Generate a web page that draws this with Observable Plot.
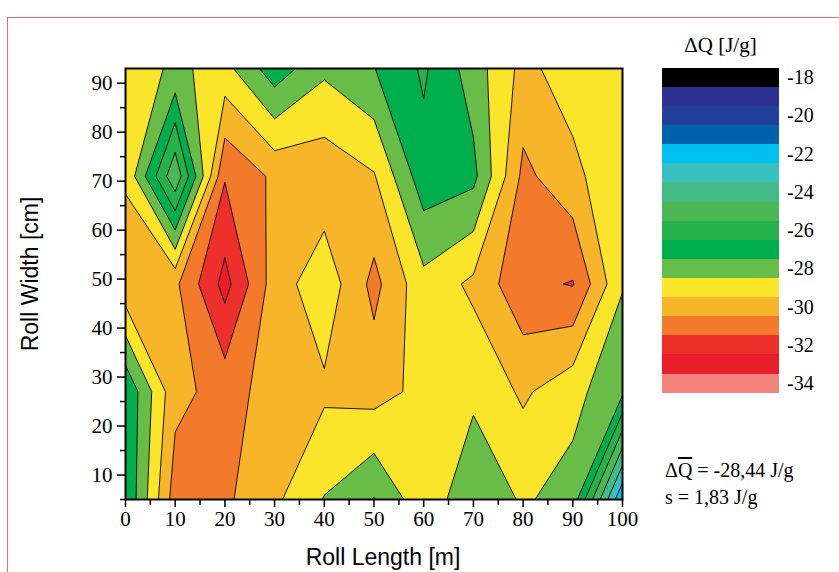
<!DOCTYPE html>
<html>
<head>
<meta charset="utf-8">
<script src="https://cdn.jsdelivr.net/npm/d3@7"></script>
<script src="https://cdn.jsdelivr.net/npm/@observablehq/plot@0.6"></script>
<style>
  body { margin: 0; background: #fff; }
  #wrap { position: relative; width: 839px; height: 572px; overflow: hidden; font-family: "Liberation Serif", serif; color: #000; }
  #border { position: absolute; left: 7px; top: 17px; width: 1000px; height: 800px; border-top: 1px solid #e2707c; border-left: 1px solid #e2707c; }
  #chart { position: absolute; left: 0; top: 0; }
  #legendTitle { position: absolute; left: 652px; width: 137px; top: 33px; text-align: center; font-size: 21px; line-height: 24px; white-space: nowrap; }
  .blk { position: absolute; left: 662px; width: 117px; }
  .lbl { position: absolute; left: 787px; font-size: 20px; line-height: 20px; }
  #stats { position: absolute; left: 665px; top: 457px; font-size: 20px; line-height: 27px; white-space: nowrap; }
</style>
</head>
<body>
<div id="wrap">
  <div id="border"></div>
  <div id="chart"></div>
  <div id="legendTitle">ΔQ [J/g]</div>
  <div id="legend"></div>
  <div id="stats"></div>
</div>
<script>
// Grid coordinates
const rollLength = [0, 10, 20, 30, 40, 50, 60, 70, 80, 90, 100];
const rollWidth = [5, 27, 49, 71, 93];

// ΔQ values [J/g] per row (Roll Width), across Roll Length 0..100
const row93 = [-28.57, -27.82, -28.33, -26.42, -27.80, -27.03, -25.85, -27.49, -29.31, -28.45, -28.10];
const row71 = [-28.85, -24.20, -30.92, -29.80, -29.68, -29.08, -26.38, -26.72, -30.25, -29.32, -28.04];
const row49 = [-29.75, -29.80, -32.35, -29.52, -28.34, -30.30, -28.32, -29.22, -30.75, -31.06, -28.07];
const row27 = [-26.10, -29.70, -30.40, -29.60, -29.18, -29.40, -28.71, -28.22, -29.16, -28.34, -27.20];
const row5  = [-26.05, -30.50, -30.18, -29.20, -27.95, -26.95, -28.70, -27.20, -28.13, -27.59, -21.05];

// Contour levels and colours (lowest first)
const levels = [-34, -33, -32, -31, -30, -29, -28, -27, -26, -25, -24, -23, -22, -21, -20, -19, -18];
const colors = ["#f4837b", "#ea1d2a", "#ee302c", "#f47a2b", "#f7b52a", "#fae52b", "#67bd47",
                "#00ae4e", "#26b24a", "#4cb755", "#44bb87", "#38bfbf", "#00bff1", "#0061ad",
                "#21409a", "#2e3192", "#000000"];
const legendLabels = [-18, -20, -22, -24, -26, -28, -30, -32, -34];

const xTicks = [0, 10, 20, 30, 40, 50, 60, 70, 80, 90, 100];
const xMinor = [5, 15, 25, 35, 45, 55, 65, 75, 85, 95];
const yTicks = [10, 20, 30, 40, 50, 60, 70, 80, 90];
const yMinor = [5, 15, 25, 35, 45, 55, 65, 75, 85];

const meanText = "-28,44 J/g";
const sdText = "1,83 J/g";

// grid as flat array, bottom row first
const values = [...row5, ...row27, ...row49, ...row71, ...row93];
const dx = rollLength[1] - rollLength[0];
const dy = rollWidth[1] - rollWidth[0];

const chart = Plot.plot({
  width: 839,
  height: 572,
  marginLeft: 125,
  marginRight: 217,
  marginTop: 68,
  marginBottom: 73,
  x: {domain: [0, 100]},
  y: {domain: [5, 93]},
  color: {type: "ordinal", domain: levels, range: colors},
  style: {fontFamily: "Liberation Serif", fontSize: "21px", background: "transparent", color: "black", overflow: "visible"},
  marks: [
    Plot.contour(values, {
      width: rollLength.length,
      height: rollWidth.length,
      x1: rollLength[0] - dx / 2,
      x2: rollLength[rollLength.length - 1] + dx / 2,
      y1: rollWidth[0] - dy / 2,
      y2: rollWidth[rollWidth.length - 1] + dy / 2,
      fill: Plot.identity,
      thresholds: levels,
      stroke: "black",
      strokeWidth: 0.9,
      clip: true
    }),
    Plot.axisX({ticks: xTicks, tickSize: 8, tickPadding: 4, tickFormat: d => String(d), label: null, strokeWidth: 1.5}),
    Plot.axisX({ticks: xMinor, tickSize: 6, text: null, label: null, strokeWidth: 1.5}),
    Plot.axisY({ticks: yTicks, tickSize: 8, tickPadding: 5, tickFormat: d => String(d), label: null, strokeWidth: 1.5}),
    Plot.axisY({ticks: yMinor, tickSize: 5, text: null, label: null, strokeWidth: 1.5}),
    Plot.frame({stroke: "black", strokeWidth: 2}),
    Plot.text(["Roll Length [m]"], {frameAnchor: "bottom", lineAnchor: "middle", textAnchor: "middle", dy: 58, dx: 9, fontFamily: "Liberation Sans", fontSize: 23}),
    Plot.text(["Roll Width [cm]"], {frameAnchor: "left", lineAnchor: "middle", textAnchor: "middle", dx: -95, dy: -10, rotate: -90, fontFamily: "Liberation Sans", fontSize: 23})
  ]
});
document.getElementById("chart").appendChild(chart);

// Legend (top = highest level)
const legend = document.getElementById("legend");
const top0 = 67.7, blkH = 325 / levels.length;
const ordered = levels.slice().reverse();
const orderedColors = colors.slice().reverse();
ordered.forEach((lv, i) => {
  const b = document.createElement("div");
  b.className = "blk";
  b.style.top = (top0 + i * blkH) + "px";
  b.style.height = (blkH + 0.6) + "px";
  b.style.background = orderedColors[i];
  legend.appendChild(b);
  if (legendLabels.includes(lv)) {
    const t = document.createElement("div");
    t.className = "lbl";
    t.style.top = (top0 + i * blkH + blkH / 2 - 10) + "px";
    t.textContent = String(lv);
    legend.appendChild(t);
  }
});

document.getElementById("stats").innerHTML =
  'Δ<span style="text-decoration:overline">Q</span> = ' + meanText + '<br>s = ' + sdText;
</script>
</body>
</html>
